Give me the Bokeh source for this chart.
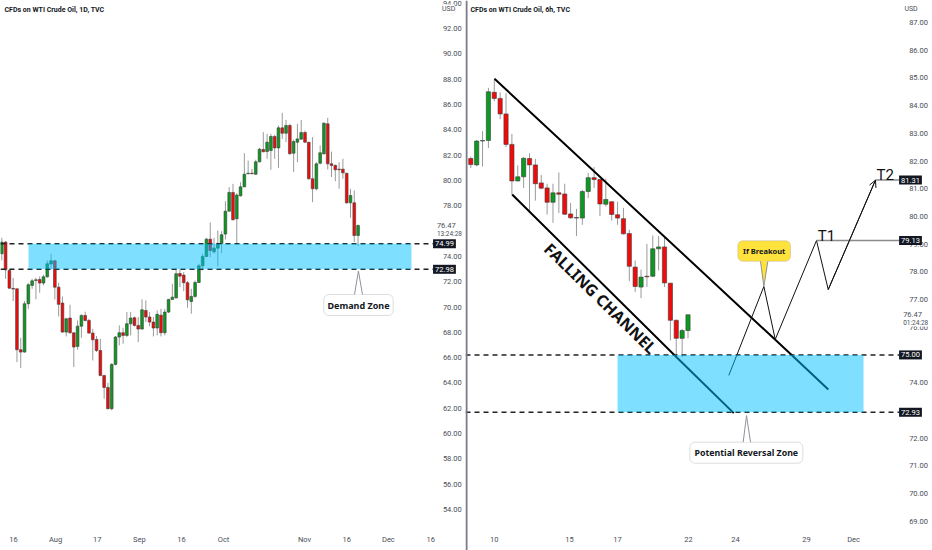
from bokeh.plotting import figure
from bokeh.layouts import row
from bokeh.embed import file_html
from bokeh.resources import INLINE
from bokeh.models import Range1d, LinearAxis, FixedTicker, Label, BoxAnnotation, Span, Arrow, OpenHead, PrintfTickFormatter

# ---------- daily chart ----------
left_open = [74.21,75.13,72.89,71.47,71.44,66.63,66.44,70.26,71.71,72.10,72.18,71.89,72.39,73.39,73.65,71.57,70.31,68.02,69.13,67.97,66.89,68.49,69.34,68.94,67.94,67.44,66.57,64.60,63.65,61.97,65.47,67.63,67.97,67.76,68.68,69.15,68.55,68.26,69.73,69.21,68.81,68.34,69.36,67.97,69.60,70.60,70.73,72.65,72.52,71.92,70.44,70.84,71.94,73.26,74.00,75.36,74.36,74.65,75.02,75.76,77.57,79.05,76.97,78.78,79.49,80.52,80.57,80.49,81.47,82.44,82.28,82.36,83.47,82.57,84.15,83.73,84.34,82.15,83.02,83.26,83.78,83.02,80.13,79.34,81.36,82.10,84.47,81.31,81.18,80.89,80.89,80.57,78.23,78.23,75.65]
left_high = [75.47,75.21,73.02,72.31,71.44,67.57,70.47,71.89,72.23,72.31,72.42,72.55,73.68,74.21,73.73,71.92,70.84,69.15,70.18,67.97,68.94,69.42,69.63,69.07,68.28,67.71,67.49,64.60,64.02,65.57,67.71,68.55,68.36,69.60,69.60,69.26,69.21,70.60,70.52,69.60,69.21,69.73,69.86,69.86,70.65,71.84,73.07,72.97,72.76,72.05,71.44,72.10,73.42,74.21,75.47,76.68,75.47,76.05,75.99,78.36,79.47,79.73,78.99,79.86,82.15,81.57,80.92,81.63,82.57,83.81,83.68,83.68,83.60,84.34,85.34,84.78,84.47,83.21,84.47,84.78,83.94,83.02,83.42,81.44,82.76,84.60,84.94,82.28,81.26,81.44,81.71,80.57,79.34,79.21,76.52]
left_low = [73.68,72.23,71.44,70.47,65.65,65.18,66.39,69.86,71.44,70.60,71.13,71.71,72.31,73.02,70.60,69.26,67.97,67.68,67.89,65.26,66.63,67.57,68.86,67.89,65.78,66.44,64.52,62.76,61.92,61.84,65.39,66.97,67.10,67.63,67.76,68.47,67.23,68.21,68.81,68.47,67.68,67.76,67.68,67.76,69.52,70.60,70.65,71.57,71.26,69.94,69.47,70.73,71.89,72.89,73.94,73.94,74.21,73.21,74.26,75.34,77.57,76.84,74.99,78.73,79.47,80.52,80.52,80.42,81.42,82.23,81.71,80.84,81.71,80.99,83.28,83.02,82.05,80.65,81.44,83.21,82.94,80.07,78.28,79.21,81.26,82.05,80.86,80.26,79.94,79.34,80.13,78.15,77.05,75.13,74.81]
left_close = [75.13,72.94,71.49,71.42,66.63,66.44,70.26,71.76,72.07,72.15,71.89,72.39,73.42,73.65,71.57,70.21,68.02,69.07,67.97,66.84,68.49,69.34,68.94,67.94,67.42,66.57,64.60,63.65,61.97,65.47,67.63,67.97,67.76,68.68,69.13,68.55,68.26,69.78,69.21,68.81,68.34,69.42,67.97,69.60,70.60,70.78,72.63,72.44,71.92,70.57,70.84,71.94,73.26,74.00,75.36,74.47,74.65,75.02,75.71,77.57,79.05,76.89,78.84,79.49,80.49,80.57,80.52,81.47,82.47,82.26,83.02,83.47,82.57,84.15,83.73,84.34,82.10,83.07,83.28,83.78,83.02,80.13,79.34,81.31,82.18,84.52,81.31,81.18,80.84,80.84,80.60,78.23,78.81,75.65,76.44]

left_price_ticks = [94,92,90,88,86,84,82,80,78,74,72,70,68,66,64,62,60,58,56,54]
left_date_bars = [3.1,14.2,25.2,36.3,47.4,58.5,79.9,91.0,102.0,113.2]
left_date_labels = ["16","Aug","17","Sep","16","Oct","Nov","16","Dec","16"]
left_zone = (7.05, 108.1, 72.98, 74.99)
left_levels = [74.99, 72.98]

# ---------- 6h chart ----------
right_open = [82.09,81.86,82.72,82.74,84.48,84.26,83.70,82.60,81.28,81.43,82.09,81.86,81.21,81.03,80.51,80.85,80.81,80.09,79.96,79.94,80.90,81.40,81.33,80.44,80.53,80.06,79.92,79.38,78.17,77.45,77.84,77.84,78.83,78.90,77.59,76.25,75.60,75.88]
right_high = [82.16,82.76,83.08,84.64,84.97,84.48,84.45,82.98,81.84,82.14,82.28,82.08,81.50,81.18,81.18,81.59,81.18,80.49,80.27,80.96,81.57,81.78,81.36,81.36,80.55,80.53,80.31,79.52,78.41,78.08,79.01,79.31,79.29,79.25,77.59,76.28,75.94,76.45]
right_low = [81.75,81.81,81.80,82.47,84.16,83.51,82.50,80.79,81.27,81.03,80.21,80.57,80.98,80.07,79.77,80.12,80.05,79.91,79.29,79.70,80.66,81.03,80.01,80.36,79.85,79.70,79.35,77.66,77.27,77.05,77.45,77.81,78.05,77.45,75.52,74.98,74.92,75.60]
right_close = [81.87,82.72,82.74,84.50,84.26,83.70,82.60,81.28,81.43,82.10,81.86,81.18,81.02,80.51,80.85,80.80,80.08,79.95,79.94,80.90,81.40,81.33,80.45,80.61,80.07,79.94,79.37,78.20,77.47,77.81,77.82,78.83,78.90,77.60,76.25,75.60,75.88,76.45]

right_price_ticks = [87,86,85,84,83,82,81,80,79,78,77,76,74,72,71,70,69]
right_date_bars = [4.0,16.8,25.0,37.1,45.1,57.2,65.2]
right_date_labels = ["10","15","17","22","24","29","Dec"]
right_zone = (25.0, 66.9, 72.93, 75.00)
right_levels = [75.00, 72.93]

upper_channel_bars = [4.04, 54.75, 60.9]
upper_channel_prices = [84.97, 74.98, 73.75]
lower_channel_bars = [7.05, 34.75, 44.8]
lower_channel_prices = [80.79, 74.98, 72.90]
path_bars = [43.95, 49.92, 51.86, 58.89, 60.89, 68.94]
path_prices = [74.26, 77.47, 75.56, 79.13, 77.36, 81.31]

TEXT = "#4a4e57"
FONT = "Roboto"
RED, GREEN = "#f20a0a", "#0b9a1f"
TAG = "#131722"


def make(width, xr, yr, o, h, l, c, body, ticks, dbars, dlabels, axis_x, date_y):
    p = figure(width=width, height=550, x_range=Range1d(*xr), y_range=Range1d(*yr),
               output_backend="svg", toolbar_location=None, x_axis_location=None, y_axis_location=None,
               min_border=0, min_border_left=0, min_border_right=0, min_border_top=0, min_border_bottom=0,
               outline_line_color=None, background_fill_color="white", border_fill_color="white")
    p.grid.visible = False
    bars = list(range(len(o)))
    colors = [GREEN if b >= a else RED for a, b in zip(o, c)]
    tops = [max(a, b) for a, b in zip(o, c)]
    bots = [min(a, b) for a, b in zip(o, c)]
    p.segment(bars, h, bars, l, line_color="#9a9a9a", line_width=1)
    p.vbar(x=bars, width=body, top=tops, bottom=bots, fill_color=colors, line_color="#3c3c3c", line_width=0.6)

    ya = LinearAxis(ticker=FixedTicker(ticks=ticks), fixed_location=axis_x, axis_line_color=None,
                    major_tick_line_color=None, minor_tick_line_color=None, major_label_standoff=0,
                    major_label_text_font_size="7.5px", major_label_text_color=TEXT, major_label_text_font=FONT,
                    formatter=PrintfTickFormatter(format="%.2f"))
    p.add_layout(ya, "right")
    xa = LinearAxis(ticker=FixedTicker(ticks=dbars), fixed_location=date_y, axis_line_color=None,
                    major_tick_line_color=None, minor_tick_line_color=None, major_label_standoff=0,
                    major_label_overrides=dict(zip(dbars, dlabels)),
                    major_label_text_font_size="7.5px", major_label_text_color=TEXT, major_label_text_font=FONT)
    p.add_layout(xa, "below")
    return p


def txt(p, x, y, text, size="7.5px", color=TEXT, bold=False, align="center", font=FONT, **kw):
    p.add_layout(Label(x=x, y=y, text=text, text_font=font, text_font_size=size, text_color=color,
                       text_font_style="bold" if bold else "normal", text_align=align,
                       text_baseline="middle", **kw))


def tag(p, x, y, text):
    p.add_layout(Label(x=x, y=y, text=text, text_font=FONT, text_font_size="7.5px", text_color="white",
                       text_align="center", text_baseline="middle", background_fill_color=TAG,
                       padding=2))


def callout(p, box, base, apex, text, fill, size):
    x0, x1, y0, y1 = box
    p.add_layout(BoxAnnotation(left=x0, right=x1, bottom=y0, top=y1, fill_color=fill, fill_alpha=1,
                               line_color="#8f9299", line_width=1, border_radius=5, level="underlay"))
    yb = y1 if apex[1] > y1 else y0
    p.patch([base[0], apex[0], base[1]], [yb, apex[1], yb], fill_color=fill, line_color=None)
    p.line([base[0], apex[0], base[1]], [yb, apex[1], yb], line_color="#8f9299", line_width=1)
    txt(p, (x0 + x1) / 2, (y0 + y1) / 2, text, size=size, color="#131722", bold=True, font="Noto Sans")


# ----- left panel -----
L = make(465, (-0.343, 122.35), (50.77, 94.21), left_open, left_high, left_low, left_close, 0.72,
         left_price_ticks, left_date_bars, left_date_labels, 114.8, 52.43)
for lv in left_levels:
    L.line([-0.343, 113.9], [lv, lv], line_color="#222222", line_width=1.5, line_dash="5 4")
L.quad(left=left_zone[0], right=left_zone[1], bottom=left_zone[2], top=left_zone[3],
       fill_color="#00bfff", fill_alpha=0.5, line_color=None)
callout(L, (84.96, 103.27, 69.33, 70.99), (93.06, 95.17), (94.1, 72.83), "Demand Zone", "white", "9px")
tag(L, 116.8, 74.99, "74.99")
tag(L, 116.8, 72.98, "72.98")
txt(L, 0.71, 93.46, "CFDs on WTI Crude Oil, 1D, TVC", size="7px", color="#131722", bold=True, align="left")
txt(L, 114.8, 76.47, "76.47", align="left")
txt(L, 114.8, 75.78, "13:24:28", size="6.5px", align="left")
L.add_layout(BoxAnnotation(left=116.2, right=119.6, bottom=93.15, top=93.92, fill_color="white", fill_alpha=1,
                           line_color="#d6d8de", line_width=1, border_radius=2))
txt(L, 117.9, 93.55, "USD", size="7px")

# ----- right panel -----
R = make(467, (-0.903, 78.65), (67.94, 87.794), right_open, right_high, right_low, right_close, 0.72,
         right_price_ticks, right_date_bars, right_date_labels, 73.65, 68.70)
R.line(upper_channel_bars, upper_channel_prices, line_color="black", line_width=2)
R.line(lower_channel_bars, lower_channel_prices, line_color="black", line_width=2)
for lv in right_levels:
    R.line([-0.903, 73.0], [lv, lv], line_color="#222222", line_width=1.5, line_dash="5 4")
R.line(path_bars, path_prices, line_color="#111111", line_width=1)
R.add_layout(Arrow(x_start=path_bars[-2], y_start=path_prices[-2], x_end=path_bars[-1], y_end=path_prices[-1],
                   line_color="#111111", line_width=1, end=OpenHead(size=7, line_width=1, line_color="#111111")))
R.line([path_bars[3], 73.0], [79.13, 79.13], line_color="#8a8a8a", line_width=1.5)
R.line([path_bars[5], 73.0], [81.31, 81.31], line_color="#8a8a8a", line_width=1.5)
R.quad(left=right_zone[0], right=right_zone[1], bottom=right_zone[2], top=right_zone[3],
       fill_color="#00bfff", fill_alpha=0.5, line_color=None)
callout(R, (45.49, 54.46, 78.38, 79.12), (49.35, 50.6), (49.92, 77.47), "If Breakout", "#ffe23c", "7.5px")
callout(R, (37.31, 56.56, 71.09, 71.85), (46.4, 47.65), (46.97, 72.81), "Potential Reversal Zone", "white", "8.8px")
for lv, s in [(81.31, "81.31"), (79.13, "79.13"), (75.00, "75.00"), (72.93, "72.93")]:
    tag(R, 74.9, lv, s)
txt(R, -0.05, 87.45, "CFDs on WTI Crude Oil, 6h, TVC", size="7px", color="#131722", bold=True, align="left")
txt(R, 73.65, 76.47, "76.47", align="left")
txt(R, 73.65, 76.17, "01:24:28", size="6.5px", align="left", background_fill_color="white")
txt(R, 75.0, 87.5, "USD", size="7px")
txt(R, 59.1, 79.3, "T1", size="15px", color="#111111", align="left")
txt(R, 69.1, 81.48, "T2", size="15px", color="#111111", align="left")
txt(R, 22.1, 77.04, "FALLING CHANNEL", size="16px", color="#111111", bold=True, angle=-44.5, angle_units="deg", font="Noto Sans")
R.add_layout(Span(location=-0.73, dimension="height", line_color="#787b86", line_width=2))

page = row(L, R)
open("out.html", "w").write(file_html(page, INLINE))
